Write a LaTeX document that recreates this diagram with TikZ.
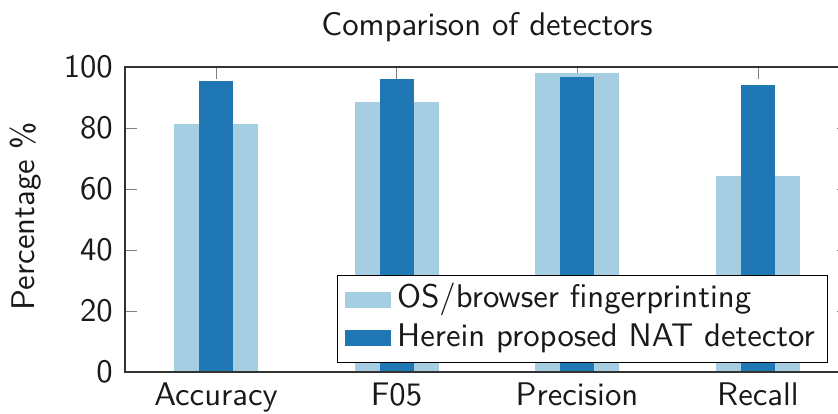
\documentclass[tikz,border=0pt]{standalone}
\usepackage{fontspec}
\setsansfont{lmsans10-regular.otf}
\begin{document}
\begin{tikzpicture}[x=1pt,y=-1pt,
  every node/.style={font=\sffamily\fontsize{32.7}{39}\selectfont, inner sep=0pt, text=black!90},
  lightbar/.style={fill=lightblue},
  darkbar/.style={fill=darkblue},
  tickmark/.style={draw=black!50, line width=0.9pt},
  spine/.style={draw=black!80, line width=1.3pt},
  legendbox/.style={draw=black, line width=1.1pt, fill=white},
]
\definecolor{lightblue}{HTML}{A6CEE3}
\definecolor{darkblue}{HTML}{1F78B4}
\useasboundingbox (0,0) rectangle (838,413);
\clip (0,0) rectangle (838,413);

% value v maps to y = 372 - 3.05 v
% y grid ticks, left and right
\foreach \v in {0,20,...,100} {
  \draw[tickmark] (125,{372-3.05*\v}) -- (136.5,{372-3.05*\v});
  \draw[tickmark] (848,{372-3.05*\v}) -- (836.5,{372-3.05*\v});
  \node[anchor=east] (yt\v) at (113,{372-3.05*\v}) {\v};
}

% category ticks, bars and labels
\foreach \cx/\lab/\lo/\hi in {216/Accuracy/81.3/95.4, 396.5/F05/88.5/96.0, 577/Precision/97.9/96.7, 758/Recall/64.3/94.1} {
  \draw[tickmark] (\cx,67) -- (\cx,79);
  \fill[lightbar] ({\cx-42},372) rectangle ({\cx+42},{372-3.05*\lo});
  \fill[darkbar] ({\cx-17},372) rectangle ({\cx+17},{372-3.05*\hi});
  \node[anchor=base] (xt\lab) at (\cx,405) {\lab};
}

% axis frame
\draw[spine] (848,67) -- (125,67) -- (125,372) -- (848,372) -- cycle;

% title and axis label
\node[anchor=base] (title) at (487,35) {Comparison of detectors};
\node[rotate=90, anchor=center] (ylabel) at (26,216) {Percentage \%};

% legend
\node[legendbox, minimum width=490pt, minimum height=87pt, anchor=north west] (legend) at (337,275) {};
\fill[lightbar] (345,292) rectangle (391,308);
\fill[darkbar] (345,330) rectangle (391,346);
\node[anchor=base west] (leg1) at (397,307) {OS/browser fingerprinting};
\node[anchor=base west] (leg2) at (397,346) {Herein proposed NAT detector};
\end{tikzpicture}
\end{document}
